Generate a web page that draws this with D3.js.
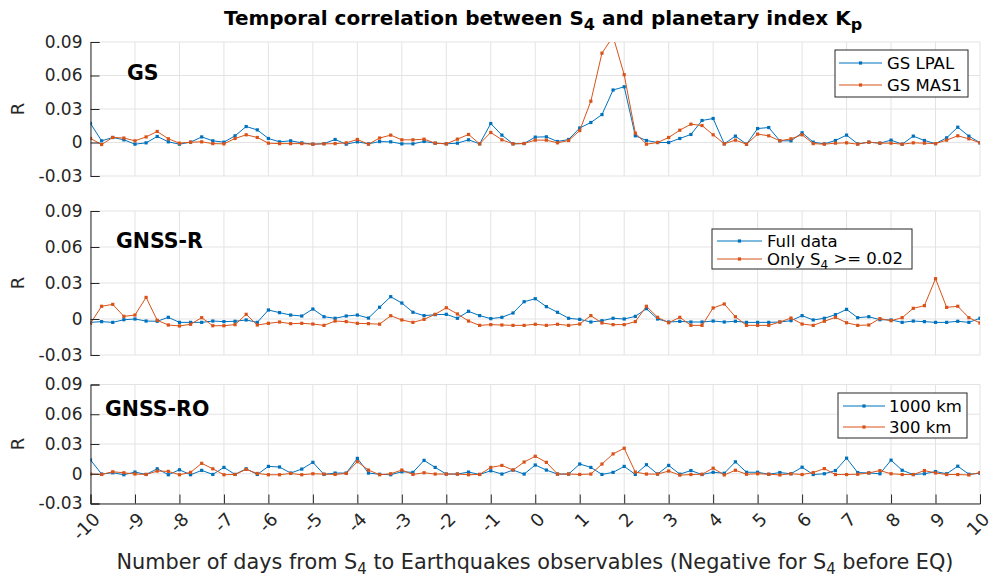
<!DOCTYPE html>
<html><head><meta charset="utf-8">
<script src="https://cdn.jsdelivr.net/npm/d3@7"></script>
<style>
body{margin:0;background:#fff;}
svg{font-family:"DejaVu Sans",sans-serif;}
</style></head><body>
<svg id="chart" width="992" height="579"></svg>
<script>
const days = [-10,-9.75,-9.5,-9.25,-9,-8.75,-8.5,-8.25,-8,-7.75,-7.5,-7.25,-7,-6.75,-6.5,-6.25,-6,-5.75,-5.5,-5.25,-5,-4.75,-4.5,-4.25,-4,-3.75,-3.5,-3.25,-3,-2.75,-2.5,-2.25,-2,-1.75,-1.5,-1.25,-1,-0.75,-0.5,-0.25,0,0.25,0.5,0.75,1,1.25,1.5,1.75,2,2.25,2.5,2.75,3,3.25,3.5,3.75,4,4.25,4.5,4.75,5,5.25,5.5,5.75,6,6.25,6.5,6.75,7,7.25,7.5,7.75,8,8.25,8.5,8.75,9,9.25,9.5,9.75,10];

const gsLPAL = [0.017,0.0015,0.0045,0.0024,-0.0015,-0.0003,0.0054,0.0006,-0.0015,0.0003,0.005,0.0015,0.0003,0.006,0.0143,0.0113,0.0036,0.0006,0.0015,-0.0003,-0.0015,-0.001,0.0027,-0.0015,0.0006,-0.0012,0.0008,0.0006,-0.0012,-0.0012,0.0009,-0.0006,-0.0012,-0.0006,0.0024,-0.0012,0.017,0.0066,-0.0012,-0.0009,0.0048,0.0051,0.0009,0.0027,0.013,0.0179,0.025,0.047,0.0499,0.006,0.0018,0,0,0.0036,0.0072,0.0197,0.0215,-0.0012,0.0057,-0.0015,0.0125,0.0134,0.0015,0.0015,0.0087,0.0003,-0.0012,0.0018,0.0066,-0.0012,0.0003,-0.0006,0.0021,-0.0015,0.0057,0.0018,-0.001,0.0042,0.0137,0.0057,-0.0003];
const gsMAS1 = [0.0036,-0.0018,0.0045,0.004,0.0015,0.005,0.0099,0.0033,-0.0006,0.0003,0.0006,-0.001,-0.0012,0.0036,0.0069,0.0045,-0.0006,-0.001,-0.001,-0.001,-0.0015,-0.0012,-0.001,-0.0003,0.0027,-0.0015,0.004,0.0066,0.0024,0.0024,0.003,-0.0006,-0.0012,0.003,0.0072,-0.0012,0.009,0.0024,-0.0012,-0.0009,0.0021,0.0021,-0.0003,0.0018,0.0107,0.037,0.08,0.095,0.0607,0.0084,-0.0015,0,0.0045,0.011,0.0164,0.0152,0.0069,-0.0012,0.0021,-0.0015,0.0075,0.006,0.0015,0.0033,0.0069,-0.001,-0.0015,-0.0006,-0.0003,-0.0015,0.0003,-0.0006,-0.0006,-0.0015,-0.0003,-0.0006,-0.001,0.0021,0.006,0.0033,-0.0003];

const fullData = [-0.0028,-0.0022,-0.0028,-0.0006,0,-0.0017,-0.0019,0.0014,-0.0028,-0.0028,-0.0028,-0.0017,-0.0022,-0.0019,-0.0008,-0.0028,0.0075,0.0053,0.0033,0.0025,0.0083,0.0019,0.0006,0.0025,0.0033,0.0008,0.0098,0.0186,0.0133,0.0056,0.0028,0.0036,0.0039,0.0006,0.0064,0.0028,0.0003,0.0014,0.005,0.0144,0.0169,0.0103,0.0056,0.0006,-0.0003,-0.0025,-0.0014,0.0006,0,0.0022,0.0086,0,-0.0025,-0.002,-0.0025,-0.0025,-0.0017,-0.0025,-0.0019,-0.0028,-0.0028,-0.0028,-0.0025,-0.0014,0.0028,-0.0008,0.0006,0.0036,0.008,0.0011,0.0019,-0.0006,-0.0008,-0.0028,-0.0017,-0.0022,-0.0028,-0.0028,-0.0019,-0.0028,0.0006];
const onlyS4 = [-0.0036,0.0106,0.0122,0.0022,0.0033,0.018,-0.0011,-0.005,-0.0058,-0.0044,0.0011,-0.0056,-0.0056,-0.0047,0.0039,-0.005,-0.0036,-0.0025,-0.0039,-0.0036,-0.0042,-0.0053,-0.0017,-0.0022,-0.0036,-0.0039,-0.0043,0.0027,-0.0008,-0.0028,-0.0003,0.0039,0.0094,0.0042,-0.0017,-0.0053,-0.0047,-0.005,-0.0053,-0.0053,-0.0044,-0.0053,-0.0044,-0.0053,-0.0042,0.0028,-0.0033,-0.0047,-0.0047,-0.0022,0.0106,0.0014,-0.0031,0.0014,-0.0053,-0.0053,0.0092,0.0125,0.0019,-0.0053,-0.0053,-0.0053,-0.0025,0.0008,-0.0042,-0.0053,-0.0019,0.0014,-0.0031,-0.0053,-0.005,0.0003,-0.0014,0.0011,0.0089,0.0111,0.0336,0.0097,0.0106,0.0011,-0.0033];

const km1000 = [0.0139,-0.0003,0.001,-0.001,0.0017,-0.0007,0.005,-0.001,0.004,-0.001,0.0034,-0.0007,0.0064,-0.0007,0.005,-0.0007,0.0074,0.0068,0.0007,0.0047,0.0115,-0.0007,0.0007,0.0007,0.0155,0.0007,-0.0005,-0.001,0.002,0.0014,0.0135,0.0064,-0.0003,-0.0003,0.0017,-0.0007,0.003,-0.0003,0.0037,-0.0003,0.0088,0.0037,-0.0003,-0.0003,0.0098,0.0064,-0.0007,0.0014,0.0074,-0.0007,0.0091,-0.0003,0.0084,-0.0004,0.0032,-0.0008,0.0015,0.0005,0.012,0.0015,0.0015,-0.0005,0.0012,0,0.0066,-0.0008,0,0.0032,0.0157,0.0012,0.0008,0,0.0137,0.0035,-0.0008,0,0.0022,0,0.0076,-0.0005,0.0005];
const km300 = [-0.0003,-0.0007,0.002,0.001,-0.0003,-0.0007,0.0027,0.0024,-0.001,0.0014,0.0105,0.005,-0.001,-0.0007,0.0044,0.0003,-0.001,-0.001,0.0003,-0.001,0,-0.0003,-0.0007,0.0003,0.0122,0.0037,-0.001,0,0.0037,-0.0007,0.001,-0.0003,-0.0003,-0.0003,-0.001,-0.0007,0.0064,0.0084,0.0037,0.0118,0.0176,0.0115,-0.0003,-0.0003,-0.0007,-0.0003,0.0098,0.02,0.0257,0.0017,-0.0003,-0.0003,0.0027,-0.0014,-0.0008,-0.0005,0.0056,-0.0012,0.0035,-0.0005,0,-0.0005,-0.0012,0,-0.0008,0.0012,0.0052,-0.0008,-0.0008,-0.0005,0.0008,0.0032,0,-0.0008,-0.0008,0.0032,0.0008,-0.0008,-0.0008,-0.0012,0.0012];

const xTicks = [-10,-9,-8,-7,-6,-5,-4,-3,-2,-1,0,1,2,3,4,5,6,7,8,9,10];
const xTickLabels = ["-10","-9","-8","-7","-6","-5","-4","-3","-2","-1","0","1","2","3","4","5","6","7","8","9","10"];
const yTicks = [-0.03,0,0.03,0.06,0.09];
const yTickLabels = ["-0.03","0","0.03","0.06","0.09"];
const panelNames = ["GS","GNSS-R","GNSS-RO"];
const seriesNames = [["GS LPAL","GS MAS1"],["Full data","Only S4"],["1000 km","300 km"]];

const BLUE = "#0072BD", ORANGE = "#D95319", AXC = "#262626", GRID = "#e3e3e3";
const svg = d3.select("#chart");
const left = 90.5, right = 980;
const x = d3.scaleLinear().domain([-10,10]).range([left,right]);

const panels = [
  {top:42, bottom:176, s:[gsLPAL,gsMAS1], label:{x:127,y:80}, leg:{x:835,y:50,w:133,h:47,rows:[63,85],lx:[839,882],tx:887}},
  {top:211, bottom:355, s:[fullData,onlyS4], label:{x:116,y:248}, leg:{x:712,y:229,w:200,h:40,rows:[241,259],lx:[717,762],tx:767}},
  {top:384.5, bottom:503.5, s:[km1000,km300], label:{x:105,y:416}, leg:{x:838,y:393,w:129,h:45,rows:[406,427],lx:[843,885],tx:889}}
];

const defs = svg.append("defs");

panels.forEach((p,pi)=>{
  const y = d3.scaleLinear().domain([-0.03,0.09]).range([p.bottom,p.top]);
  const g = svg.append("g");
  g.append("g").selectAll("line").data(xTicks).join("line")
    .attr("x1",d=>x(d)).attr("x2",d=>x(d)).attr("y1",p.top).attr("y2",p.bottom)
    .attr("stroke",GRID).attr("stroke-width",1);
  g.append("g").selectAll("line").data(yTicks).join("line")
    .attr("x1",left).attr("x2",right).attr("y1",d=>y(d)).attr("y2",d=>y(d))
    .attr("stroke",GRID).attr("stroke-width",1);
  defs.append("clipPath").attr("id","clip"+pi).append("rect")
    .attr("x",left).attr("y",p.top).attr("width",right-left).attr("height",p.bottom-p.top);
  const cg = g.append("g").attr("clip-path",`url(#clip${pi})`);
  const line = d3.line().x((d,i)=>x(days[i])).y(d=>y(d));
  [[p.s[0],BLUE],[p.s[1],ORANGE]].forEach(([vals,col])=>{
    cg.append("path").datum(vals).attr("d",line).attr("fill","none").attr("stroke",col).attr("stroke-width",1);
    cg.append("g").selectAll("rect").data(vals).join("rect")
      .attr("x",(d,i)=>x(days[i])-1.6).attr("y",d=>y(d)-1.6).attr("width",3.2).attr("height",3.2).attr("fill",col);
  });
  const ya = d3.axisLeft(y).tickValues(yTicks).tickFormat((d,i)=>yTickLabels[i]).tickSize(-9).tickPadding(8);
  const yg = g.append("g").attr("transform",`translate(${left},0)`).call(ya);
  yg.select(".domain").attr("stroke",AXC);
  yg.selectAll(".tick line").attr("stroke",AXC);
  yg.selectAll("text").attr("fill",AXC).style("font-size","17px").style("font-family","DejaVu Sans");
  if(pi===2){
    const xa = d3.axisBottom(x).tickValues(xTicks).tickFormat((d,i)=>xTickLabels[i]).tickSize(-9).tickPadding(4);
    const xg = g.append("g").attr("transform",`translate(0,${p.bottom})`).call(xa);
    xg.select(".domain").attr("stroke",AXC);
    xg.selectAll(".tick line").attr("stroke",AXC);
    xg.selectAll("text").attr("fill",AXC).style("font-size","18px").style("font-family","DejaVu Sans")
      .attr("text-anchor","end").attr("y",null).attr("dy",null)
      .attr("transform","translate(10,17) rotate(-45)");
  }
  svg.append("text").attr("transform",`translate(24,${(p.top+p.bottom)/2}) rotate(-90)`)
    .attr("text-anchor","middle").style("font-size","18px").attr("fill",AXC).text("R");
  svg.append("text").attr("x",p.label.x).attr("y",p.label.y).style("font-size","20.5px")
    .style("font-weight","bold").attr("fill","#000").text(panelNames[pi]);
  const L = p.leg;
  const lg = svg.append("g");
  lg.append("rect").attr("x",L.x).attr("y",L.y).attr("width",L.w).attr("height",L.h)
    .attr("fill","#fff").attr("stroke",AXC).attr("stroke-width",1);
  [BLUE,ORANGE].forEach((col,k)=>{
    const ry = L.rows[k];
    lg.append("line").attr("x1",L.lx[0]).attr("x2",L.lx[1]).attr("y1",ry).attr("y2",ry).attr("stroke",col).attr("stroke-width",1);
    lg.append("rect").attr("x",(L.lx[0]+L.lx[1])/2-1.6).attr("y",ry-1.6).attr("width",3.2).attr("height",3.2).attr("fill",col);
    const t = lg.append("text").attr("x",L.tx).attr("y",ry).attr("dy","0.36em").style("font-size","16.5px").attr("fill","#000");
    if(pi===1 && k===1){
      t.append("tspan").text("Only S");
      t.append("tspan").attr("dy","0.3em").style("font-size","12px").text("4");
      t.append("tspan").attr("dy","-0.3em").text(" >= 0.02");
    } else {
      t.text(seriesNames[pi][k]);
    }
  });
});

const title = svg.append("text").attr("x",543).attr("y",25).attr("text-anchor","middle")
  .style("font-size","20px").style("font-weight","bold").attr("fill","#000");
title.append("tspan").text("Temporal correlation between S");
title.append("tspan").attr("dy",5).style("font-size","16px").text("4");
title.append("tspan").attr("dy",-5).text(" and planetary index K");
title.append("tspan").attr("dy",5).style("font-size","16px").text("p");

const xl = svg.append("text").attr("x",535).attr("y",569).attr("text-anchor","middle")
  .style("font-size","20.8px").attr("fill",AXC);
xl.append("tspan").text("Number of days from S");
xl.append("tspan").attr("dy",5).style("font-size","15px").text("4");
xl.append("tspan").attr("dy",-5).text(" to Earthquakes observables (Negative for S");
xl.append("tspan").attr("dy",5).style("font-size","15px").text("4");
xl.append("tspan").attr("dy",-5).text(" before EQ)");
</script>
</body></html>
